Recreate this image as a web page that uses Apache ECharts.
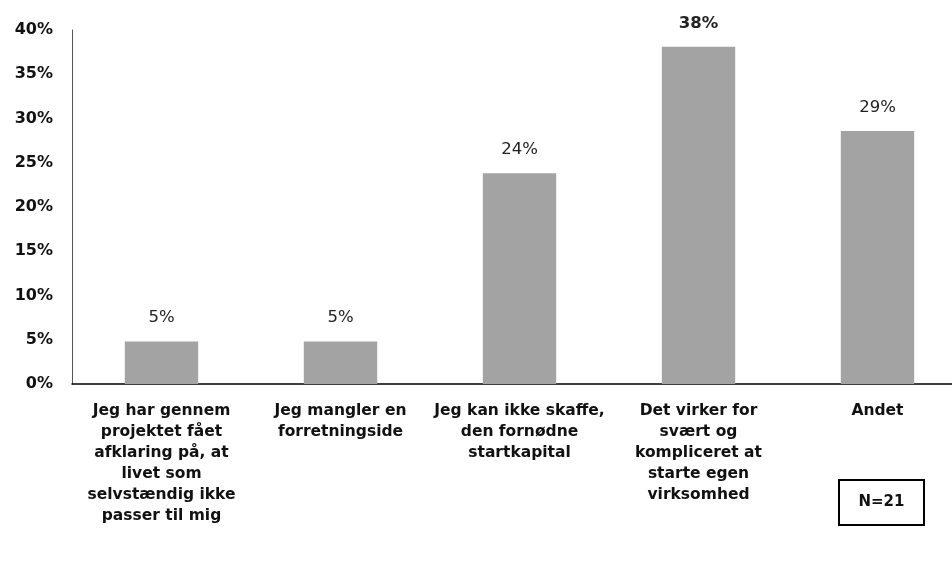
<!DOCTYPE html>
<html><head><meta charset="utf-8">
<script src="https://cdn.jsdelivr.net/npm/echarts@6/dist/echarts.min.js"></script>
<style>html,body{margin:0;padding:0;background:#fff}#c{width:952px;height:567px}</style>
</head><body><div id="c"></div>
<script>
const categories = [
  "Jeg har gennem\nprojektet fået\nafklaring på, at\nlivet som\nselvstændig ikke\npasser til mig",
  "Jeg mangler en\nforretningside",
  "Jeg kan ikke skaffe,\nden fornødne\nstartkapital",
  "Det virker for\nsvært og\nkompliceret at\nstarte egen\nvirksomhed",
  "Andet"
];
const values = [4.8, 4.8, 23.8, 38.1, 28.6];
const valueLabels = ["5%", "5%", "24%", "38%", "29%"];
const yTicks = [0, 5, 10, 15, 20, 25, 30, 35, 40];
const noteText = "N=21";

const chart = echarts.init(document.getElementById('c'), null, {renderer: 'canvas'});
chart.setOption({
  animation: false,
  backgroundColor: '#fff',
  grid: {left: 72, width: 895, top: 30, bottom: 183, containLabel: false, outerBoundsMode: 'none'},
  xAxis: {
    type: 'category',
    data: categories,
    axisLine: {lineStyle: {color: '#000', width: 1.5}},
    axisTick: {show: false},
    axisLabel: {
      interval: 0, margin: 16, color: '#111',
      fontFamily: 'DejaVu Sans', fontWeight: 'bold', fontSize: 15.5, lineHeight: 21
    }
  },
  yAxis: {
    type: 'value', min: yTicks[0], max: yTicks[yTicks.length - 1], interval: 5,
    splitLine: {show: false},
    axisLine: {show: true, lineStyle: {color: '#555', width: 1}},
    axisTick: {show: false},
    axisLabel: {
      margin: 19, color: '#111', fontFamily: 'DejaVu Sans', fontWeight: 'bold', fontSize: 16,
      padding: [5, 0, 0, 0],
      formatter: v => v + '%'
    }
  },
  series: [{
    type: 'bar',
    barWidth: '41%',
    data: values.map((v, i) => ({
      value: v,
      label: {fontWeight: i === 3 ? 'bold' : 'normal'}
    })),
    itemStyle: {color: '#a3a3a3'},
    label: {
      show: true, position: 'top', distance: 15, color: '#222',
      fontFamily: 'DejaVu Sans', fontSize: 16.5,
      formatter: p => valueLabels[p.dataIndex]
    }
  }],
  graphic: [{
    type: 'group', left: 838, top: 479,
    children: [
      {type: 'rect', shape: {x: 0, y: 0, width: 85, height: 45},
       style: {fill: '#fff', stroke: '#000', lineWidth: 2}},
      {type: 'text', x: 42.5, y: 22.5,
       style: {text: noteText, fill: '#111', font: 'bold 15px "DejaVu Sans"', align: 'center', verticalAlign: 'middle'}}
    ]
  }]
});
</script></body></html>
